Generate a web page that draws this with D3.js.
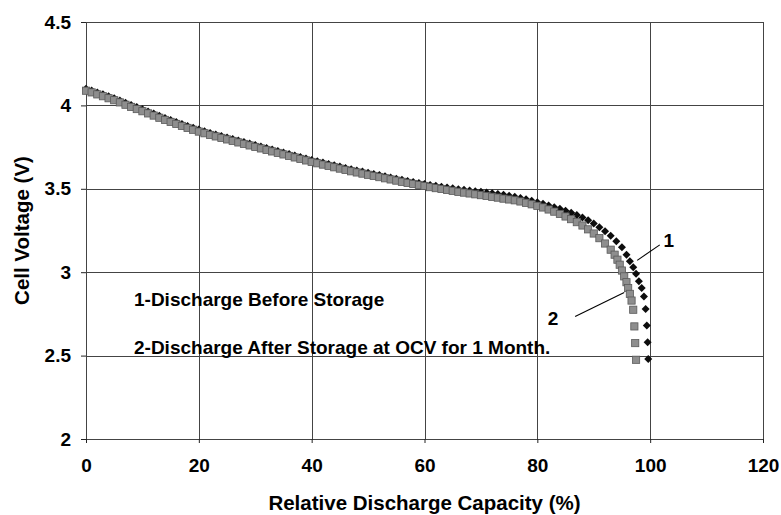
<!DOCTYPE html>
<html>
<head>
<meta charset="utf-8">
<script src="https://cdn.jsdelivr.net/npm/d3@7/dist/d3.min.js"></script>
<style>
  html, body { margin: 0; padding: 0; background: #fff; }
  svg text { font-family: "Liberation Sans", Arial, sans-serif; font-weight: bold; fill: #000; }
</style>
</head>
<body>
<svg id="chart" width="781" height="515"></svg>
<script>
// Relative discharge capacity (%) and cell voltage (V) for each discharge
const beforeCap = [0,1,2,3,4,5,6,7,8,9,10,11,12,13,14,15,16,17,18,19,20,21,22,23,24,25,26,27,28,29,30,
  31,32,33,34,35,36,37,38,39,40,41,42,43,44,45,46,47,48,49,50,51,52,53,54,55,56,57,58,59,60,
  61,62,63,64,65,66,67,68,69,70,71,72,73,74,75,76,77,78,79,80,81,82,83,84,85,86,87,88,89,90,
  91,92,93,94,95,95.8,96.4,97.0,97.5,98.0,98.5,98.9,99.2,99.4,99.55,99.66];
const beforeV = [4.100,4.090,4.078,4.067,4.055,4.043,4.030,4.016,4.003,3.990,3.977,
  3.964,3.951,3.938,3.925,3.913,3.901,3.889,3.877,3.866,3.855,
  3.845,3.835,3.826,3.817,3.808,3.799,3.790,3.781,3.772,3.763,
  3.754,3.745,3.736,3.727,3.718,3.709,3.700,3.691,3.682,3.673,
  3.665,3.657,3.649,3.641,3.633,3.625,3.617,3.610,3.603,3.596,
  3.589,3.582,3.575,3.568,3.561,3.554,3.547,3.541,3.535,3.529,
  3.523,3.518,3.513,3.508,3.503,3.498,3.494,3.490,3.486,3.482,
  3.478,3.474,3.469,3.464,3.458,3.452,3.445,3.437,3.428,3.419,
  3.410,3.400,3.390,3.380,3.369,3.357,3.343,3.328,3.311,3.292,
  3.270,3.246,3.218,3.186,3.150,3.105,3.065,3.030,2.990,2.945,2.905,2.855,2.780,2.680,2.580,2.480];

const afterCap = [0,1,2,3,4,5,6,7,8,9,10,11,12,13,14,15,16,17,18,19,20,21,22,23,24,25,26,27,28,29,30,
  31,32,33,34,35,36,37,38,39,40,41,42,43,44,45,46,47,48,49,50,51,52,53,54,55,56,57,58,59,60,
  61,62,63,64,65,66,67,68,69,70,71,72,73,74,75,76,77,78,79,80,81,82,83,84,85,86,87,88,89,90,
  91,92,93,93.7,94.2,94.6,95.0,95.4,95.8,96.1,96.4,96.7,97.0,97.2,97.35,97.5];
const afterV = [4.088,4.078,4.066,4.055,4.043,4.031,4.018,4.004,3.991,3.978,3.965,
  3.952,3.939,3.926,3.913,3.901,3.889,3.877,3.865,3.854,3.843,
  3.833,3.823,3.814,3.805,3.796,3.787,3.778,3.769,3.760,3.751,
  3.742,3.733,3.724,3.715,3.706,3.697,3.688,3.679,3.670,3.661,
  3.653,3.645,3.637,3.629,3.621,3.613,3.605,3.598,3.591,3.584,
  3.577,3.570,3.563,3.556,3.549,3.542,3.535,3.529,3.523,3.517,
  3.510,3.504,3.499,3.493,3.488,3.482,3.477,3.472,3.467,3.462,
  3.457,3.452,3.447,3.441,3.436,3.431,3.424,3.416,3.407,3.398,
  3.388,3.376,3.363,3.349,3.334,3.318,3.300,3.280,3.257,3.232,
  3.204,3.172,3.135,3.105,3.075,3.045,3.010,2.975,2.940,2.905,2.870,2.830,2.775,2.675,2.575,2.475];

const xTicks = [0, 20, 40, 60, 80, 100, 120];
const yTicks = [2, 2.5, 3, 3.5, 4, 4.5];
const yTickLabels = ["2", "2.5", "3", "3.5", "4", "4.5"];

const legendLines = ["1-Discharge Before Storage", "2-Discharge After Storage at OCV for 1 Month."];
// Curve labels with their leader lines, in data units: [label, labelCap, labelV, fromCap, fromV, toCap, toV]
const curveLabels = [
  ["1", 103.3, 3.152, 101.7, 3.164, 97.7, 3.071],
  ["2", 82.8, 2.684, 86.7, 2.735, 95.4, 2.879]
];

const svg = d3.select("#chart");
const plotLeft = 86, plotRight = 763, plotTop = 22, plotBottom = 439;

const x = d3.scaleLinear().domain([0, 120]).range([plotLeft, plotRight]);
const y = d3.scaleLinear().domain([2, 4.5]).range([plotBottom, plotTop]);

// gridlines
const grid = svg.append("g").attr("stroke", "#444").attr("stroke-width", 1).attr("shape-rendering", "crispEdges");
grid.selectAll("line.v").data(xTicks).join("line").attr("class", "v")
  .attr("x1", d => Math.round(x(d)) + 0.5).attr("x2", d => Math.round(x(d)) + 0.5)
  .attr("y1", plotTop).attr("y2", plotBottom);
grid.selectAll("line.h").data(yTicks).join("line").attr("class", "h")
  .attr("y1", d => Math.round(y(d)) + 0.5).attr("y2", d => Math.round(y(d)) + 0.5)
  .attr("x1", plotLeft).attr("x2", plotRight);

// axes
const yAxis = svg.append("g").attr("transform", `translate(${plotLeft},0)`)
  .call(d3.axisLeft(y).tickValues(yTicks).tickSize(5).tickPadding(10)
    .tickFormat((d, i) => yTickLabels[i]));
const xAxis = svg.append("g").attr("transform", `translate(0,${plotBottom})`)
  .call(d3.axisBottom(x).tickValues(xTicks).tickSize(4).tickPadding(16).tickFormat(d3.format("d")));
[yAxis, xAxis].forEach(g => {
  g.select(".domain").remove();
  g.selectAll("line").attr("stroke", "#222");
  g.selectAll("text").style("font-size", "19px").style("font-family", "'Liberation Sans', Arial, sans-serif")
    .style("font-weight", "bold").attr("fill", "#000");
});

// axis titles
svg.append("text").attr("x", (plotLeft + plotRight) / 2).attr("y", 510)
  .attr("text-anchor", "middle").style("font-size", "20.5px")
  .text("Relative Discharge Capacity (%)");
svg.append("text").attr("transform", `translate(29,${(plotTop + plotBottom) / 2}) rotate(-90)`)
  .attr("text-anchor", "middle").style("font-size", "20.5px")
  .text("Cell Voltage (V)");

// legend notes
svg.selectAll("text.note").data(legendLines).join("text")
  .attr("class", "note").attr("x", 134).attr("y", (d, i) => 306 + i * 48)
  .style("font-size", "19px").text(d => d);

// discharge before storage: black diamonds
const before = beforeCap.map((c, i) => [c, beforeV[i]]);
const after = afterCap.map((c, i) => [c, afterV[i]]);
const r = 4;
svg.append("g").selectAll("path").data(before).join("path")
  .attr("transform", d => `translate(${x(d[0])},${y(d[1])})`)
  .attr("d", `M0,${-r}L${r},0L0,${r}L${-r},0Z`)
  .attr("fill", "#0d0d0d");

// discharge after storage: grey squares
const s = 7.2;
svg.append("g").selectAll("rect").data(after).join("rect")
  .attr("x", d => x(d[0]) - s / 2).attr("y", d => y(d[1]) - s / 2)
  .attr("width", s).attr("height", s)
  .attr("fill", "#8e8e8e").attr("stroke", "#5a5a5a").attr("stroke-width", 0.8);

// curve labels
const lab = svg.append("g");
lab.selectAll("line").data(curveLabels).join("line")
  .attr("x1", d => x(d[3])).attr("y1", d => y(d[4]))
  .attr("x2", d => x(d[5])).attr("y2", d => y(d[6]))
  .attr("stroke", "#000").attr("stroke-width", 1.1);
lab.selectAll("text").data(curveLabels).join("text")
  .attr("x", d => x(d[1])).attr("y", d => y(d[2]))
  .attr("text-anchor", "middle").style("font-size", "19px").text(d => d[0]);
</script>
</body>
</html>
